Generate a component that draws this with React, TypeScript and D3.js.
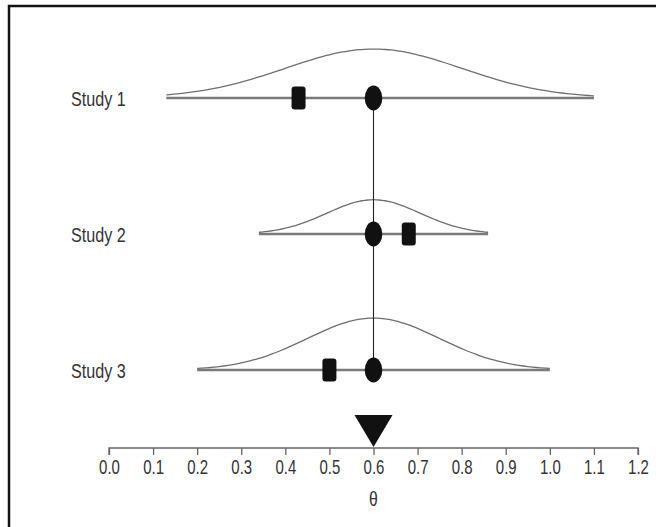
import { useRef, useEffect } from "react";
import * as d3 from "d3";

// values
const studies = ["Study 1", "Study 2", "Study 3"];
const studyEstimates = [0.43, 0.68, 0.5];
const pooledEstimate = 0.6;
const lowerLimits = [0.13, 0.34, 0.2];
const upperLimits = [1.1, 0.86, 1.0];
const curveMeans = [0.6, 0.6, 0.6];
const curveSds = [0.2, 0.106, 0.15];
const curvePeaks = [1.0, 0.7, 1.06];
const tickValues = [0, 0.1, 0.2, 0.3, 0.4, 0.5, 0.6, 0.7, 0.8, 0.9, 1.0, 1.1, 1.2];

const width = 656;
const height = 527;
const squeeze = 0.75; // the figure's text is narrow

const App = () => {
  const svgRef = useRef<SVGSVGElement>(null);

  useEffect(() => {
    const svg = d3.select(svgRef.current);
    svg.selectAll("*").remove();

    const x = d3.scaleLinear().domain([0, 1.2]).range([109, 638]);
    const y = d3.scalePoint<string>().domain(studies).range([98, 370]);
    const peak = d3.scaleLinear().domain([0, 1]).range([0, 49]);
    const axisY = 448;

    svg.append("rect").attr("width", width).attr("height", height).attr("fill", "#fff");

    // frame (left and top only)
    svg
      .append("path")
      .attr("d", `M9,${height} V6 H${width}`)
      .attr("fill", "none")
      .attr("stroke", "#111")
      .attr("stroke-width", 2.5);

    const rows = studies.map((s, i) => ({
      name: s,
      est: studyEstimates[i],
      lo: lowerLimits[i],
      hi: upperLimits[i],
      mu: curveMeans[i],
      sd: curveSds[i],
      pk: curvePeaks[i],
    }));

    // density curves
    const line = d3
      .line<[number, number]>()
      .x((d) => x(d[0]))
      .y((d) => d[1])
      .curve(d3.curveBasis);

    rows.forEach((r) => {
      const base = y(r.name)!;
      const pts: [number, number][] = d3
        .range(0, 81)
        .map((k) => r.lo + ((r.hi - r.lo) * k) / 80)
        .map((v) => [v, base - peak(r.pk * Math.exp(-0.5 * ((v - r.mu) / r.sd) ** 2))]);
      svg
        .append("path")
        .attr("d", line(pts))
        .attr("fill", "none")
        .attr("stroke", "#6f6f6f")
        .attr("stroke-width", 1.3);
    });

    // interval lines
    svg
      .selectAll("line.range")
      .data(rows)
      .join("line")
      .attr("class", "range")
      .attr("x1", (d) => x(d.lo))
      .attr("x2", (d) => x(d.hi))
      .attr("y1", (d) => y(d.name)!)
      .attr("y2", (d) => y(d.name)!)
      .attr("stroke", "#7a7a7a")
      .attr("stroke-width", 2.6);

    // vertical line through the pooled estimate
    svg
      .append("line")
      .attr("x1", x(pooledEstimate))
      .attr("x2", x(pooledEstimate))
      .attr("y1", y(studies[0])!)
      .attr("y2", y(studies[studies.length - 1])!)
      .attr("stroke", "#222")
      .attr("stroke-width", 1.1);

    // study estimates (squares)
    svg
      .selectAll("rect.est")
      .data(rows)
      .join("rect")
      .attr("class", "est")
      .attr("x", (d) => x(d.est) - 7)
      .attr("y", (d) => y(d.name)! - 11.5)
      .attr("width", 14)
      .attr("height", 23)
      .attr("rx", 3)
      .attr("fill", "#111");

    // pooled estimate per study (ellipses)
    svg
      .selectAll("ellipse.pool")
      .data(rows)
      .join("ellipse")
      .attr("class", "pool")
      .attr("cx", x(pooledEstimate))
      .attr("cy", (d) => y(d.name)!)
      .attr("rx", 8.8)
      .attr("ry", 12.5)
      .attr("fill", "#111");

    // study labels
    svg
      .selectAll("text.study")
      .data(rows)
      .join("text")
      .attr("class", "study")
      .attr("transform", (d) => `translate(71,${y(d.name)!}) scale(0.77,1)`)
      .attr("dy", "0.36em")
      .attr("font-family", "'Liberation Sans', Arial, sans-serif")
      .attr("font-size", 21)
      .attr("fill", "#333")
      .text((d) => d.name);

    // summary triangle
    const tx = x(pooledEstimate);
    svg
      .append("path")
      .attr("d", `M${tx - 19},415 L${tx + 19},415 L${tx},${axisY - 1} Z`)
      .attr("fill", "#111");

    // axis
    const axis = d3
      .axisBottom(x)
      .tickValues(tickValues)
      .tickFormat(d3.format(".1f"))
      .tickSize(7)
      .tickPadding(5);
    const g = svg.append("g").attr("transform", `translate(0,${axisY})`).call(axis);
    g.select(".domain").attr("stroke", "#666").attr("stroke-width", 1.3).attr("d", `M${x(0)},7V0H${x(1.2)}V7`);
    g.selectAll(".tick line").attr("stroke", "#666").attr("stroke-width", 1.3);
    g.selectAll(".tick text")
      .attr("font-family", "'Liberation Sans', Arial, sans-serif")
      .attr("font-size", 20)
      .attr("fill", "#333")
      .attr("transform", `scale(${squeeze},1)`);

    svg
      .append("text")
      .attr("transform", `translate(${x(pooledEstimate)},506) scale(${squeeze},1)`)
      .attr("text-anchor", "middle")
      .attr("font-family", "'Liberation Sans', Arial, sans-serif")
      .attr("font-size", 21)
      .attr("fill", "#333")
      .text("θ");
  }, []);

  return (
    <div style={{ position: "fixed", left: 0, top: 0 }}>
      <svg ref={svgRef} width={width} height={height} style={{ display: "block" }}></svg>
    </div>
  );
};

export default App;
